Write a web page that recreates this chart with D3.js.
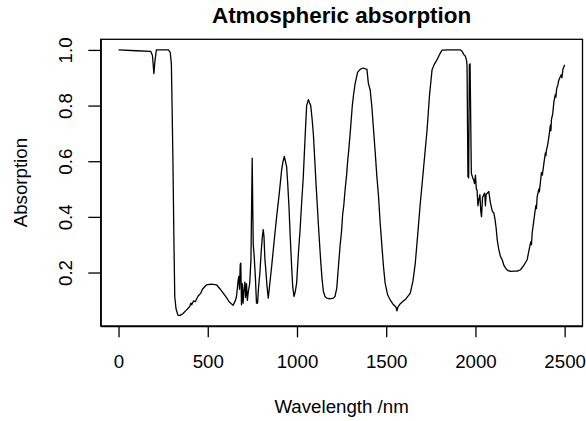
<!DOCTYPE html>
<html>
<head>
<meta charset="utf-8">
<script src="https://cdn.jsdelivr.net/npm/d3@7"></script>
<style>
  body { margin: 0; background: white; }
  svg { font-family: "Liberation Sans", Arial, sans-serif; }
</style>
</head>
<body>
<svg id="chart" width="586" height="421"></svg>
<script>
// atmospheric absorption spectrum
var wavelength = [
  0, 100, 180, 190, 198, 204, 212, 280, 290, 296, 300, 305, 310, 315, 322, 333, 345, 360, 380, 399,
  405, 410, 420, 430, 445, 460, 470, 493, 520, 549, 570, 600, 620, 642, 655, 661, 670, 674, 678, 682,
  685, 689, 693, 698, 703, 708, 712, 717, 722, 727, 735, 742, 745, 749, 752, 755, 760, 767, 773, 779,
  785, 792, 800, 806, 811, 815, 820, 824, 832, 839, 846, 858, 870, 886, 900, 914, 922, 929, 935, 942,
  948, 955, 962, 970, 976, 983, 990, 998, 1008, 1017, 1026, 1035, 1045, 1054, 1064, 1070, 1077, 1085, 1092, 1100,
  1107, 1114, 1120, 1127, 1133, 1140, 1148, 1157, 1167, 1185, 1204, 1213, 1223, 1232, 1242, 1250, 1256, 1262, 1270, 1278,
  1284, 1290, 1298, 1310, 1317, 1326, 1340, 1354, 1370, 1392, 1400, 1410, 1419, 1429, 1438, 1447, 1457, 1466, 1476, 1485,
  1494, 1508, 1522, 1540, 1555, 1560, 1565, 1575, 1588, 1610, 1635, 1650, 1663, 1677, 1691, 1700, 1710, 1720, 1729, 1743,
  1757, 1771, 1785, 1800, 1813, 1860, 1916, 1925, 1935, 1944, 1951, 1953, 1958, 1962, 1966, 1970, 1977, 1985, 1990, 1995,
  2000, 2005, 2009, 2014, 2019, 2025, 2030, 2034, 2040, 2047, 2052, 2056, 2060, 2066, 2075, 2084, 2095, 2103, 2110, 2116,
  2122, 2131, 2140, 2150, 2160, 2169, 2180, 2197, 2215, 2235, 2253, 2270, 2290, 2300, 2310, 2314, 2318, 2330, 2338, 2342,
  2346, 2355, 2358, 2365, 2370, 2375, 2384, 2392, 2395, 2398,
  2405, 2412, 2420, 2423, 2426, 2433, 2440, 2448, 2451, 2455,
  2462, 2468, 2480, 2485, 2490, 2500
];
var absorption = [
  1.000, 0.997, 0.995, 0.980, 0.915, 0.960, 1.000, 1.000, 0.990, 0.950, 0.800, 0.590, 0.330, 0.114, 0.070, 0.046, 0.046, 0.052, 0.065, 0.078,
  0.090, 0.084, 0.098, 0.095, 0.115, 0.125, 0.140, 0.156, 0.158, 0.156, 0.140, 0.114, 0.095, 0.082, 0.100, 0.114, 0.170, 0.186, 0.140, 0.230,
  0.234, 0.084, 0.160, 0.090, 0.140, 0.165, 0.110, 0.160, 0.100, 0.130, 0.160, 0.246, 0.400, 0.611, 0.437, 0.300, 0.260, 0.180, 0.090, 0.090,
  0.150, 0.198, 0.280, 0.330, 0.354, 0.330, 0.250, 0.220, 0.150, 0.108, 0.150, 0.222, 0.300, 0.401, 0.480, 0.569, 0.600, 0.617, 0.600, 0.580,
  0.520, 0.437, 0.330, 0.222, 0.150, 0.114, 0.130, 0.162, 0.270, 0.350, 0.450, 0.540, 0.680, 0.800, 0.821, 0.810, 0.800, 0.750, 0.695, 0.600,
  0.515, 0.440, 0.372, 0.300, 0.240, 0.180, 0.132, 0.114, 0.108, 0.105, 0.108, 0.114, 0.144, 0.220, 0.300, 0.350, 0.410, 0.440, 0.500, 0.550,
  0.600, 0.640, 0.700, 0.800, 0.839, 0.880, 0.920, 0.930, 0.935, 0.930, 0.880, 0.857, 0.800, 0.713, 0.635, 0.550, 0.473, 0.380, 0.294, 0.220,
  0.162, 0.120, 0.102, 0.085, 0.075, 0.062, 0.075, 0.085, 0.093, 0.105, 0.126, 0.170, 0.234, 0.340, 0.450, 0.510, 0.580, 0.650, 0.713, 0.840,
  0.929, 0.950, 0.965, 0.985, 0.999, 1.000, 1.000, 0.995, 0.983, 0.977, 0.960, 0.941, 0.545, 0.540, 0.947, 0.950, 0.557, 0.540, 0.533, 0.520,
  0.550, 0.500, 0.497, 0.440, 0.461, 0.480, 0.420, 0.401, 0.470, 0.480, 0.485, 0.440, 0.480, 0.485, 0.491, 0.450, 0.420, 0.414, 0.390, 0.360,
  0.318, 0.282, 0.258, 0.246, 0.225, 0.216, 0.208, 0.204, 0.205, 0.205, 0.210, 0.225, 0.246, 0.280, 0.310, 0.300, 0.342, 0.400, 0.440, 0.430,
  0.473, 0.500, 0.490, 0.530, 0.560, 0.550, 0.594, 0.630, 0.620, 0.640,
  0.660, 0.689, 0.730, 0.710, 0.750, 0.770, 0.815, 0.840, 0.830, 0.860,
  0.875, 0.893, 0.910, 0.900, 0.930, 0.947
];

var xTicks = [0, 500, 1000, 1500, 2000, 2500];
var yTicks = [0.2, 0.4, 0.6, 0.8, 1.0];

var svg = d3.select('#chart');
var fontSize = 18.7;
// plot box edges (don't call these top/left: window.top is read-only)
var boxL = 100.7, boxR = 582.5, boxT = 39.3, boxB = 326;

// R style: extend the data range by 4% on each side
function rRange(ext){
  var pad = (ext[1] - ext[0]) * 0.04;
  return [ext[0] - pad, ext[1] + pad];
}

var x = d3.scaleLinear().domain(rRange(d3.extent(wavelength))).range([boxL, boxR]);
var y = d3.scaleLinear().domain(rRange(d3.extent(absorption))).range([boxB, boxT]);

var line = d3.line()
  .x(function(d, i){ return x(wavelength[i]); })
  .y(function(d){ return y(d); });

svg.append('path')
  .attr('d', line(absorption))
  .attr('fill', 'none')
  .attr('stroke', 'black')
  .attr('stroke-width', 1.3)
  .attr('stroke-linejoin', 'round');

// box
svg.append('rect')
  .attr('x', boxL).attr('y', boxT)
  .attr('width', boxR - boxL).attr('height', boxB - boxT)
  .attr('fill', 'none').attr('stroke', 'black').attr('stroke-width', 1.3);

// x axis
var xAxis = svg.append('g')
  .attr('transform', 'translate(0,' + boxB + ')')
  .call(d3.axisBottom(x).tickValues(xTicks).tickFormat(d3.format('d'))
    .tickSize(11.3).tickSizeOuter(0).tickPadding(17.7));
xAxis.attr('font-family', null);
xAxis.select('.domain').attr('stroke-width', 1.3);
xAxis.selectAll('.tick line').attr('stroke-width', 1.3);
xAxis.selectAll('text').attr('font-size', fontSize).attr('fill', '#000');

// y axis, labels turned like R does
var yAxis = svg.append('g')
  .attr('transform', 'translate(' + boxL + ',0)')
  .call(d3.axisLeft(y).tickValues(yTicks).tickSize(12.4).tickSizeOuter(0).tickFormat(d3.format('.1f')));
yAxis.attr('font-family', null);
yAxis.select('.domain').attr('stroke-width', 1.3);
yAxis.selectAll('.tick line').attr('stroke-width', 1.3);
yAxis.selectAll('text')
  .attr('font-size', fontSize).attr('fill', '#000')
  .attr('transform', 'rotate(-90)')
  .attr('x', 0).attr('y', -29).attr('dy', null)
  .attr('text-anchor', 'middle');

// title and axis titles
svg.append('text')
  .attr('x', (boxL + boxR) / 2).attr('y', 22.7)
  .attr('text-anchor', 'middle')
  .attr('font-size', fontSize * 1.2).attr('font-weight', 'bold')
  .text('Atmospheric absorption');

svg.append('text')
  .attr('x', (boxL + boxR) / 2).attr('y', 413)
  .attr('text-anchor', 'middle')
  .attr('font-size', fontSize)
  .text('Wavelength /nm');

svg.append('text')
  .attr('transform', 'translate(26.8,' + (boxT + boxB) / 2 + ') rotate(-90)')
  .attr('text-anchor', 'middle')
  .attr('font-size', fontSize)
  .text('Absorption');
</script>
</body>
</html>
